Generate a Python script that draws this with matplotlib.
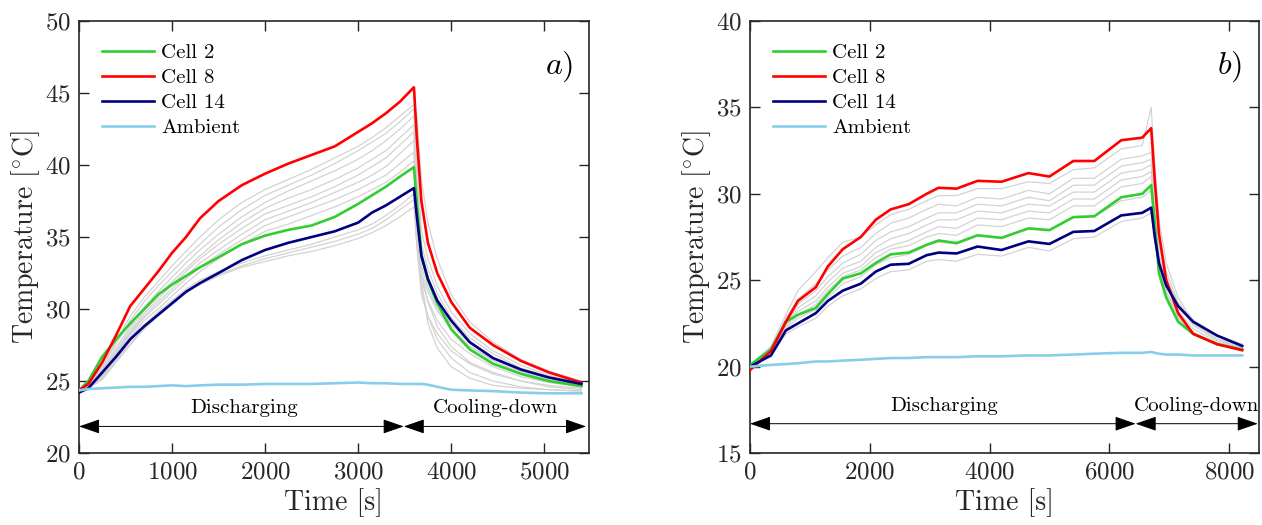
import numpy as np
import matplotlib
matplotlib.use("Agg")
from matplotlib import pyplot as plt

plt.rcParams["font.family"] = ["cmr10", "DejaVu Serif"]
plt.rcParams["mathtext.fontset"] = "cm"
plt.rcParams["axes.formatter.use_mathtext"] = True

# ---- panel a) : discharge, then cooling ----
timeA = [0, 100, 250, 400, 550, 700, 850, 1000, 1150, 1300, 1500, 1750, 2000, 2250, 2500,
         2750, 3000, 3150, 3300, 3450, 3600,
         3630, 3680, 3750, 3850, 4000, 4200, 4450, 4750, 5050, 5400]
cell2A = [24.35, 25.0, 26.7, 27.9, 29.0, 30.0, 31.0, 31.7, 32.3, 32.9, 33.6, 34.5, 35.1, 35.5, 35.8,
          36.4, 37.3, 37.9, 38.5, 39.2, 39.85,
          37.5, 33.8, 32.0, 30.4, 28.6, 27.2, 26.2, 25.5, 25.0, 24.65]
cell8A = [24.35, 24.8, 26.3, 28.2, 30.2, 31.4, 32.6, 33.9, 35.0, 36.3, 37.5, 38.6, 39.4, 40.1, 40.7,
          41.3, 42.3, 42.9, 43.6, 44.4, 45.4,
          42.0, 37.5, 34.6, 32.5, 30.5, 28.7, 27.5, 26.4, 25.6, 24.9]
cell14A = [24.2, 24.5, 25.6, 26.7, 27.9, 28.8, 29.6, 30.4, 31.2, 31.8, 32.5, 33.4, 34.1, 34.6, 35.0,
           35.4, 36.0, 36.7, 37.2, 37.8, 38.4,
           36.5, 33.7, 32.1, 30.6, 29.2, 27.7, 26.6, 25.8, 25.25, 24.8]
ambientA = [24.35, 24.45, 24.5, 24.55, 24.6, 24.6, 24.65, 24.7, 24.65, 24.7, 24.75, 24.75, 24.8, 24.8, 24.8,
            24.85, 24.9, 24.85, 24.85, 24.8, 24.8,
            24.8, 24.8, 24.75, 24.6, 24.4, 24.35, 24.3, 24.2, 24.15, 24.15]
otherCellsA = [
    [24.3, 24.8, 26.0, 27.8, 29.5, 30.8, 31.9, 33.0, 34.0, 35.0, 36.2, 37.4, 38.3, 39.0, 39.7,
     40.5, 41.3, 41.9, 42.6, 43.4, 44.2,
     43.5, 39.0, 36.0, 33.5, 31.0, 29.1, 27.7, 26.5, 25.7, 25.0],
    [24.3, 24.8, 25.9, 27.6, 29.2, 30.5, 31.6, 32.6, 33.6, 34.5, 35.7, 36.9, 37.9, 38.6, 39.3,
     40.1, 41.0, 41.6, 42.2, 43.0, 43.9,
     40.5, 35.5, 33.5, 31.6, 29.8, 28.3, 27.1, 26.1, 25.4, 24.8],
    [24.3, 24.7, 25.8, 27.3, 28.8, 30.1, 31.2, 32.2, 33.2, 34.1, 35.2, 36.4, 37.4, 38.2, 38.9,
     39.6, 40.4, 41.0, 41.7, 42.5, 43.4,
     39.5, 34.5, 32.8, 31.1, 29.4, 28.0, 26.9, 25.9, 25.3, 24.8],
    [24.3, 24.7, 25.7, 27.1, 28.6, 29.9, 30.9, 31.9, 32.8, 33.7, 34.8, 36.0, 37.0, 37.7, 38.3,
     39.0, 39.8, 40.4, 41.0, 41.9, 42.8,
     38.5, 33.5, 32.0, 30.4, 28.9, 27.6, 26.6, 25.7, 25.2, 24.7],
    [24.3, 24.7, 25.6, 27.0, 28.4, 29.7, 30.7, 31.7, 32.6, 33.5, 34.5, 35.6, 36.6, 37.2, 37.8,
     38.5, 39.3, 39.9, 40.5, 41.4, 42.3,
     37.8, 33.0, 31.5, 30.0, 28.6, 27.4, 26.4, 25.6, 25.1, 24.7],
    [24.3, 24.6, 25.5, 26.9, 28.3, 29.5, 30.5, 31.4, 32.3, 33.2, 34.1, 35.2, 36.2, 36.8, 37.4,
     38.1, 38.8, 39.3, 39.9, 40.8, 41.7,
     36.5, 32.0, 30.6, 29.2, 27.9, 26.9, 26.0, 25.3, 24.9, 24.6],
    [24.3, 24.6, 25.4, 26.8, 28.2, 29.4, 30.3, 31.2, 32.1, 32.9, 33.8, 34.8, 35.8, 36.4, 37.0,
     37.6, 38.3, 38.8, 39.3, 40.1, 40.9,
     36.0, 32.5, 30.5, 28.8, 27.4, 26.3, 25.6, 25.0, 24.7, 24.5],
    [24.3, 24.6, 25.4, 26.7, 28.0, 29.2, 30.0, 30.9, 31.8, 32.6, 33.5, 34.5, 35.4, 35.9, 36.5,
     37.1, 37.8, 38.3, 38.8, 39.5, 40.3,
     36.0, 32.0, 29.0, 27.3, 26.0, 25.2, 24.7, 24.5, 24.4, 24.3],
    [24.2, 24.5, 25.3, 26.5, 27.8, 28.9, 29.8, 30.6, 31.4, 32.0, 32.6, 33.2, 33.7, 34.1, 34.5,
     35.0, 35.5, 35.9, 36.5, 37.2, 38.0,
     35.0, 32.5, 31.2, 29.9, 28.6, 27.4, 26.5, 25.7, 25.2, 24.8],
    [24.2, 24.5, 25.2, 26.4, 27.6, 28.7, 29.6, 30.4, 31.2, 31.8, 32.4, 33.0, 33.5, 33.9, 34.3,
     34.7, 35.2, 35.6, 36.2, 36.9, 37.6,
     34.5, 31.0, 29.5, 28.3, 27.1, 26.2, 25.5, 25.0, 24.6, 24.4],
    [24.2, 24.5, 25.1, 26.3, 27.5, 28.6, 29.5, 30.3, 31.1, 31.7, 32.3, 32.9, 33.3, 33.7, 34.0,
     34.4, 34.9, 35.3, 35.8, 36.4, 37.1,
     34.5, 31.5, 29.5, 27.9, 26.6, 25.6, 25.0, 24.6, 24.4, 24.3],
]

# ---- panel b) ----
timeB = [0, 350, 600, 800, 1100, 1300, 1550, 1850, 2100, 2350, 2650, 2950, 3150, 3450,
         3800, 4200, 4650, 5000, 5400, 5750, 6200, 6550, 6700,
         6760, 6830, 6950, 7150, 7400, 7800, 8220]
cell2B = [20.1, 21.0, 22.6, 23.0, 23.4, 24.2, 25.1, 25.4, 26.0, 26.5, 26.6, 27.05, 27.3, 27.15,
          27.6, 27.45, 28.0, 27.9, 28.65, 28.7, 29.8, 30.0, 30.5,
          28.3, 25.4, 24.0, 22.6, 21.9, 21.3, 21.0]
cell8B = [19.8, 20.9, 22.6, 23.8, 24.6, 25.8, 26.8, 27.5, 28.5, 29.1, 29.4, 30.0, 30.35, 30.3,
          30.75, 30.7, 31.2, 31.0, 31.9, 31.9, 33.1, 33.25, 33.8,
          30.8, 27.7, 25.0, 23.1, 21.9, 21.3, 20.95]
cell14B = [20.0, 20.65, 22.1, 22.5, 23.1, 23.8, 24.4, 24.8, 25.5, 25.9, 25.95, 26.45, 26.6, 26.55,
           26.95, 26.75, 27.25, 27.1, 27.8, 27.85, 28.75, 28.9, 29.2,
           27.5, 26.0, 24.7, 23.5, 22.6, 21.8, 21.2]
ambientB = [20.0, 20.1, 20.15, 20.2, 20.3, 20.3, 20.35, 20.4, 20.45, 20.5, 20.5, 20.55, 20.55, 20.55,
            20.6, 20.6, 20.65, 20.65, 20.7, 20.75, 20.8, 20.8, 20.85,
            20.8, 20.75, 20.7, 20.7, 20.65, 20.65, 20.65]
otherCellsB = [
    [20.0, 21.2, 23.0, 24.4, 25.5, 26.3, 27.2, 27.5, 28.2, 28.8, 29.1, 29.6, 29.9, 29.9,
     30.3, 30.3, 30.7, 30.6, 31.4, 31.5, 32.6, 32.8, 35.0,
     31.5, 28.5, 26.0, 24.0, 22.6, 21.6, 21.1],
    [20.0, 21.1, 22.8, 23.9, 24.8, 25.6, 26.4, 26.9, 27.7, 28.3, 28.6, 29.1, 29.4, 29.3,
     29.8, 29.7, 30.2, 30.0, 30.9, 30.9, 32.0, 32.2, 32.4,
     30.0, 27.5, 25.5, 23.7, 22.5, 21.6, 21.2],
    [20.0, 21.0, 22.6, 23.6, 24.4, 25.2, 26.0, 26.5, 27.3, 27.8, 28.1, 28.6, 28.9, 28.9,
     29.4, 29.3, 29.8, 29.6, 30.5, 30.5, 31.6, 31.8, 32.0,
     29.5, 27.0, 25.2, 23.5, 22.4, 21.5, 21.1],
    [20.1, 20.9, 22.5, 23.4, 24.1, 24.9, 25.7, 26.1, 26.9, 27.4, 27.7, 28.2, 28.5, 28.5,
     29.0, 28.9, 29.4, 29.3, 30.1, 30.1, 31.2, 31.4, 31.7,
     29.0, 26.5, 24.8, 23.2, 22.2, 21.4, 21.1],
    [20.1, 20.9, 22.4, 23.2, 23.8, 24.6, 25.4, 25.8, 26.6, 27.0, 27.3, 27.8, 28.1, 28.0,
     28.6, 28.5, 29.0, 28.9, 29.7, 29.7, 30.8, 31.0, 31.3,
     28.5, 26.0, 24.4, 22.9, 22.0, 21.3, 21.0],
    [20.0, 20.8, 22.3, 23.0, 23.6, 24.4, 25.2, 25.6, 26.3, 26.8, 27.0, 27.5, 27.7, 27.6,
     28.2, 28.1, 28.6, 28.5, 29.3, 29.3, 30.4, 30.6, 31.0,
     28.2, 25.8, 24.2, 22.8, 21.9, 21.3, 21.0],
    [20.0, 20.7, 22.2, 22.8, 23.3, 24.0, 24.8, 25.2, 25.9, 26.3, 26.5, 27.0, 27.2, 27.1,
     27.6, 27.5, 28.0, 27.9, 28.7, 28.7, 29.6, 29.8, 30.2,
     28.0, 26.5, 25.0, 23.7, 22.7, 21.8, 21.3],
    [20.0, 20.6, 21.9, 22.3, 22.8, 23.5, 24.1, 24.5, 25.1, 25.5, 25.6, 26.1, 26.2, 26.1,
     26.5, 26.4, 26.9, 26.7, 27.4, 27.5, 28.4, 28.6, 28.9,
     27.5, 26.0, 24.8, 23.6, 22.6, 21.8, 21.3],
]

seriesLabels = ["Cell 2", "Cell 8", "Cell 14", "Ambient"]
seriesColors = ["#33cc33", "#ff0000", "#000080", "#87ceeb"]
tickColor = "#262626"


def drawPanel(ax, time, highlighted, others, ambient, xlim, ylim, xticks, yticks,
              phaseSplit, arrowEnd, arrowY, textY, dischargeX, coolingX, tag):
    for values in others:
        ax.plot(time, values, color="#d3d3d3", lw=0.9, zorder=1)
    for values, label, color in zip(highlighted + [ambient], seriesLabels, seriesColors):
        ax.plot(time, values, color=color, lw=1.9, label=label, zorder=3)

    ax.set_xlim(xlim)
    ax.set_ylim(ylim)
    ax.set_xticks(xticks)
    ax.set_yticks(yticks)
    ax.tick_params(direction="in", length=7, width=1.0, top=True, right=True,
                   labelsize=18, colors=tickColor, pad=6)
    for spine in ax.spines.values():
        spine.set_linewidth(1.2)
        spine.set_color(tickColor)

    ax.set_xlabel("Time [s]", fontsize=20, color=tickColor, labelpad=3)
    ax.set_ylabel("Temperature [$^{\\circ}$C]", fontsize=20, color=tickColor, labelpad=2)

    arrow = dict(arrowstyle="<|-|>,head_length=1.3,head_width=0.45", color="black",
                 lw=0.7, shrinkA=0, shrinkB=0)
    ax.annotate("", xy=(phaseSplit, arrowY), xytext=(xlim[0], arrowY), arrowprops=arrow)
    ax.annotate("", xy=(arrowEnd, arrowY), xytext=(phaseSplit, arrowY), arrowprops=arrow)
    ax.text(dischargeX, textY, "Discharging", fontsize=15, ha="center", va="center")
    ax.text(coolingX, textY, "Cooling-down", fontsize=15, ha="center", va="center")

    ax.text(0.942, 0.893, tag, transform=ax.transAxes, fontsize=23, ha="center", va="center")

    ax.legend(loc="upper left", bbox_to_anchor=(0.0, 1.0), frameon=False, fontsize=15,
              handlelength=2.5, handletextpad=0.35, labelspacing=0.3, borderaxespad=0.7)


fig = plt.figure(figsize=(12.62, 5.25), dpi=100)
axA = fig.add_axes([0.0626, 0.137, 0.404, 0.823])
axB = fig.add_axes([0.5943, 0.137, 0.4033, 0.823])

drawPanel(axA, timeA, [cell2A, cell8A, cell14A], otherCellsA, ambientA,
          (0, 5480), (20, 50), np.arange(0, 5001, 1000), np.arange(20, 51, 5),
          3490, 5450, 21.85, 23.15, 1780, 4480, "$a)$")
drawPanel(axB, timeB, [cell2B, cell8B, cell14B], otherCellsB, ambientB,
          (0, 8500), (15, 40), np.arange(0, 8001, 2000), np.arange(15, 41, 5),
          6440, 8480, 16.7, 17.7, 3240, 7455, "$b)$")

plt.savefig("out.png", dpi=100)
